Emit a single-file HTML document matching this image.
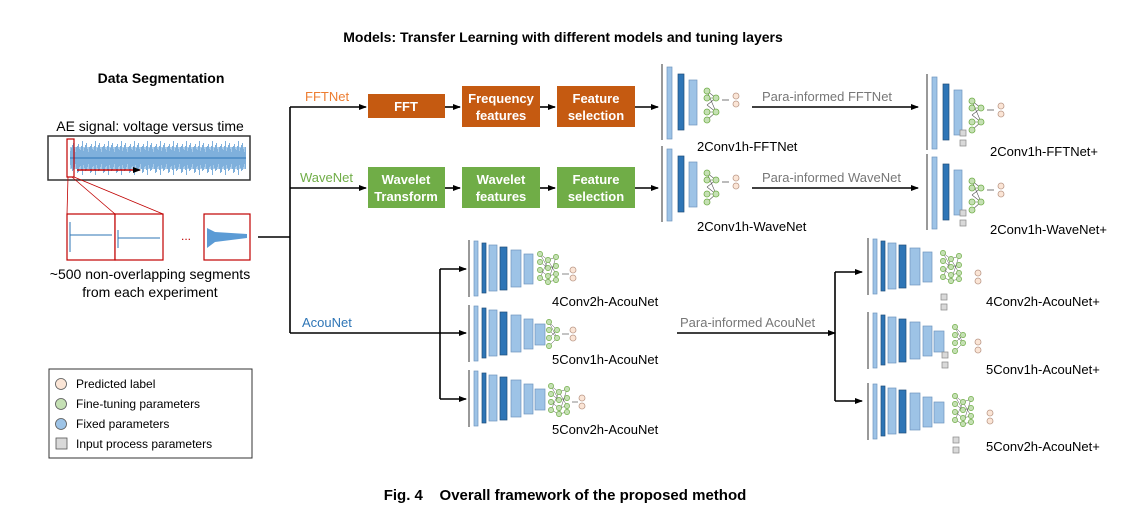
<!DOCTYPE html>
<html><head><meta charset="utf-8"><style>
body{margin:0;background:#fff;width:1132px;height:510px;overflow:hidden}
svg{display:block}
text{font-family:"Liberation Sans",sans-serif}
</style></head><body>
<svg width="1132" height="510" viewBox="0 0 1132 510" xmlns="http://www.w3.org/2000/svg">
<defs>
<marker id="ah" markerWidth="8" markerHeight="8" refX="7" refY="4" orient="auto" markerUnits="userSpaceOnUse"><path d="M0,1 L8,4 L0,7z" fill="#000"/></marker>
<pattern id="noise" x="0" y="140" width="13" height="36" patternUnits="userSpaceOnUse">
<g stroke="#7fb0dc" stroke-width="1"><line x1="0.5" y1="4" x2="0.5" y2="32"/><line x1="1.5" y1="9" x2="1.5" y2="27"/><line x1="2.5" y1="10" x2="2.5" y2="26"/><line x1="3.5" y1="6" x2="3.5" y2="30"/><line x1="4.5" y1="1" x2="4.5" y2="35"/><line x1="5.5" y1="11" x2="5.5" y2="25"/><line x1="6.5" y1="8" x2="6.5" y2="28"/><line x1="7.5" y1="5" x2="7.5" y2="31"/><line x1="8.5" y1="3" x2="8.5" y2="30"/><line x1="9.5" y1="9" x2="9.5" y2="27"/><line x1="10.5" y1="12" x2="10.5" y2="24"/><line x1="11.5" y1="7" x2="11.5" y2="29"/><line x1="12.5" y1="6" x2="12.5" y2="33"/></g>
</pattern>
<g id="pred"><circle cx="0" cy="0" r="3" fill="#fbe5d6" stroke="#b98" stroke-width="0.8"/><circle cx="0" cy="8" r="3" fill="#fbe5d6" stroke="#b98" stroke-width="0.8"/></g>
<g id="n2">
<line x1="0" y1="0" x2="0" y2="76" stroke="#777" stroke-width="1.5"/>
<rect x="5" y="3" width="5" height="72" fill="#9dc3e6" stroke="#6f95bd" stroke-width="0.7"/>
<rect x="16" y="10" width="6" height="56" fill="#2e75b6" stroke="#1f4e79" stroke-width="0.7"/>
<rect x="27" y="16" width="8" height="45" fill="#9dc3e6" stroke="#6f95bd" stroke-width="0.7"/>
<g stroke="#555" stroke-width="0.6" fill="none"><path d="M45,27 L54,34 L45,41 M45,27 L54,48 M45,41 L54,48 L45,56 M45,34 L54,34 M45,48 L54,48"/></g>
<g fill="#c5e0b4" stroke="#70ad47" stroke-width="0.8"><circle cx="45" cy="27" r="3"/><circle cx="45" cy="34" r="3"/><circle cx="45" cy="48" r="3"/><circle cx="45" cy="56" r="3"/><circle cx="54" cy="34" r="3"/><circle cx="54" cy="48" r="3"/></g>
<line x1="60" y1="36" x2="67" y2="36" stroke="#555" stroke-width="0.8"/>
<use href="#pred" x="74" y="32"/>
</g>
<g id="sq" fill="#d9d9d9" stroke="#888" stroke-width="0.7"><rect x="0" y="0" width="6" height="6"/><rect x="0" y="10" width="6" height="6"/></g>
<g id="acou">
<line x1="0" y1="0" x2="0" y2="57" stroke="#777" stroke-width="1.5"/>
<rect x="5" y="1" width="4" height="55" fill="#9dc3e6" stroke="#6f95bd" stroke-width="0.7"/>
<rect x="13" y="3" width="4" height="50" fill="#2e75b6" stroke="#1f4e79" stroke-width="0.7"/>
<rect x="20" y="5" width="8" height="46" fill="#9dc3e6" stroke="#6f95bd" stroke-width="0.7"/>
<rect x="31" y="7" width="7" height="43" fill="#2e75b6" stroke="#1f4e79" stroke-width="0.7"/>
<rect x="42" y="10" width="10" height="37" fill="#9dc3e6" stroke="#6f95bd" stroke-width="0.7"/>
<rect x="55" y="14" width="9" height="30" fill="#9dc3e6" stroke="#6f95bd" stroke-width="0.7"/>
</g>
<g id="acou5">
<use href="#acou"/>
<rect x="66" y="19" width="10" height="21" fill="#9dc3e6" stroke="#6f95bd" stroke-width="0.7"/>
</g>
<g id="nodes2">
<g stroke="#555" stroke-width="0.5" fill="none"><path d="M0,0 L8,6 L16,3 M0,8 L8,14 L16,12 M0,16 L8,22 L16,20 M0,24 L8,28 L16,26 M0,0 L8,14 M0,24 L8,6 M8,6 L16,20 M8,28 L16,3"/></g>
<g fill="#c5e0b4" stroke="#70ad47" stroke-width="0.7"><circle cx="0" cy="0" r="2.6"/><circle cx="0" cy="8" r="2.6"/><circle cx="0" cy="16" r="2.6"/><circle cx="0" cy="24" r="2.6"/><circle cx="8" cy="6" r="2.6"/><circle cx="8" cy="14" r="2.6"/><circle cx="8" cy="22" r="2.6"/><circle cx="8" cy="28" r="2.6"/><circle cx="16" cy="3" r="2.6"/><circle cx="16" cy="12" r="2.6"/><circle cx="16" cy="20" r="2.6"/><circle cx="16" cy="26" r="2.6"/></g>
</g>
<g id="nodes1">
<g stroke="#555" stroke-width="0.5" fill="none"><path d="M0,0 L8,8 L0,16 M0,8 L8,16 L0,24 M0,0 L8,16"/></g>
<g fill="#c5e0b4" stroke="#70ad47" stroke-width="0.7"><circle cx="0" cy="0" r="2.6"/><circle cx="0" cy="8" r="2.6"/><circle cx="0" cy="16" r="2.6"/><circle cx="0" cy="24" r="2.6"/><circle cx="8" cy="8" r="2.6"/><circle cx="8" cy="16" r="2.6"/></g>
</g>
</defs>

<text x="563" y="42" font-size="14" font-weight="bold" text-anchor="middle">Models: Transfer Learning with different models and tuning layers</text>
<text x="161" y="83" font-size="14" font-weight="bold" text-anchor="middle">Data Segmentation</text>
<text x="150" y="131" font-size="14" text-anchor="middle">AE signal: voltage versus time</text>

<!-- signal box -->
<rect x="48" y="136" width="202" height="44" fill="#fff" stroke="#333" stroke-width="1.5"/>
<rect x="70" y="147" width="176" height="22" fill="#a9cbe9"/>
<rect x="70" y="140" width="176" height="36" fill="url(#noise)"/>
<line x1="70" y1="158" x2="246" y2="158" stroke="#2e75b6" stroke-width="1"/>
<rect x="67" y="139" width="7" height="38" fill="none" stroke="#c00000" stroke-width="1.2"/>
<line x1="77" y1="170" x2="140" y2="170" stroke="#c00000" stroke-width="1.5" marker-end="url(#ah)"/>
<line x1="68" y1="177" x2="67" y2="214" stroke="#c00000" stroke-width="0.8"/>
<line x1="72" y1="177" x2="115" y2="214" stroke="#c00000" stroke-width="0.8"/>
<line x1="74" y1="177" x2="163" y2="214" stroke="#c00000" stroke-width="0.8"/>
<rect x="67" y="214" width="48" height="46" fill="#fff" stroke="#c00000" stroke-width="1.2"/>
<rect x="115" y="214" width="48" height="46" fill="#fff" stroke="#c00000" stroke-width="1.2"/>
<rect x="204" y="214" width="46" height="46" fill="#fff" stroke="#c00000" stroke-width="1.2"/>
<line x1="70" y1="235" x2="112" y2="235" stroke="#2e75b6"/><line x1="70" y1="222" x2="70" y2="252" stroke="#2e75b6"/>
<line x1="118" y1="238" x2="160" y2="238" stroke="#2e75b6"/><line x1="118" y1="230" x2="118" y2="248" stroke="#2e75b6"/>
<path d="M207,228 L215,232 L247,234 L247,238 L215,242 L207,248 Z" fill="#5b9bd5"/>
<text x="186" y="240" font-size="12" fill="#c00000" text-anchor="middle">...</text>
<text x="150" y="279" font-size="14" text-anchor="middle">~500 non-overlapping segments</text>
<text x="150" y="297" font-size="14" text-anchor="middle">from each experiment</text>

<!-- trunk -->
<g stroke="#000" stroke-width="1.6" fill="none">
<line x1="258" y1="237" x2="290" y2="237"/>
<line x1="290" y1="107" x2="290" y2="333"/>
<line x1="290" y1="107" x2="366" y2="107" marker-end="url(#ah)"/>
<line x1="290" y1="188" x2="366" y2="188" marker-end="url(#ah)"/>
<line x1="290" y1="333" x2="466" y2="333" marker-end="url(#ah)"/>
<line x1="445" y1="107" x2="460" y2="107" marker-end="url(#ah)"/>
<line x1="540" y1="107" x2="555" y2="107" marker-end="url(#ah)"/>
<line x1="635" y1="107" x2="658" y2="107" marker-end="url(#ah)"/>
<line x1="445" y1="188" x2="460" y2="188" marker-end="url(#ah)"/>
<line x1="540" y1="188" x2="555" y2="188" marker-end="url(#ah)"/>
<line x1="635" y1="188" x2="658" y2="188" marker-end="url(#ah)"/>
<line x1="440" y1="269" x2="440" y2="399"/>
<line x1="440" y1="269" x2="466" y2="269" marker-end="url(#ah)"/>
<line x1="440" y1="399" x2="466" y2="399" marker-end="url(#ah)"/>
<line x1="752" y1="107" x2="918" y2="107" marker-end="url(#ah)"/>
<line x1="752" y1="188" x2="918" y2="188" marker-end="url(#ah)"/>
<line x1="677" y1="333" x2="835" y2="333" marker-end="url(#ah)"/>
<line x1="835" y1="272" x2="835" y2="401"/>
<line x1="835" y1="272" x2="862" y2="272" marker-end="url(#ah)"/>
<line x1="835" y1="401" x2="862" y2="401" marker-end="url(#ah)"/>
</g>
<text x="305" y="101" font-size="13" fill="#ed7d31">FFTNet</text>
<text x="300" y="182" font-size="13" fill="#70ad47">WaveNet</text>
<text x="302" y="327" font-size="13" fill="#2e75b6">AcouNet</text>

<!-- boxes -->
<g font-size="13" font-weight="bold" fill="#fff" text-anchor="middle">
<rect x="368" y="94" width="77" height="24" fill="#c55a11"/><text x="406" y="111" fill="#fff">FFT</text>
<rect x="462" y="86" width="78" height="41" fill="#c55a11"/><text x="501" y="103" fill="#fff">Frequency</text><text x="501" y="120" fill="#fff">features</text>
<rect x="557" y="86" width="78" height="41" fill="#c55a11"/><text x="596" y="103" fill="#fff">Feature</text><text x="596" y="120" fill="#fff">selection</text>
<rect x="368" y="167" width="77" height="41" fill="#70ad47"/><text x="406" y="184" fill="#fff">Wavelet</text><text x="406" y="201" fill="#fff">Transform</text>
<rect x="462" y="167" width="78" height="41" fill="#70ad47"/><text x="501" y="184" fill="#fff">Wavelet</text><text x="501" y="201" fill="#fff">features</text>
<rect x="557" y="167" width="78" height="41" fill="#70ad47"/><text x="596" y="184" fill="#fff">Feature</text><text x="596" y="201" fill="#fff">selection</text>
</g>

<!-- nets -->
<use href="#n2" x="662" y="64"/>
<use href="#n2" x="662" y="146"/>
<use href="#n2" x="927" y="74"/><use href="#sq" x="960" y="130"/>
<use href="#n2" x="927" y="154"/><use href="#sq" x="960" y="210"/>

<use href="#acou" x="469" y="240"/><use href="#nodes2" x="540" y="254"/><use href="#pred" x="573" y="270"/>
<line x1="562" y1="274" x2="569" y2="274" stroke="#555" stroke-width="0.7"/>
<use href="#acou5" x="469" y="305"/><use href="#nodes1" x="549" y="322"/><use href="#pred" x="573" y="330"/>
<line x1="562" y1="334" x2="569" y2="334" stroke="#555" stroke-width="0.7"/>
<use href="#acou5" x="469" y="370"/><use href="#nodes2" x="551" y="386"/><use href="#pred" x="582" y="398"/>
<line x1="572" y1="402" x2="578" y2="402" stroke="#555" stroke-width="0.7"/>

<use href="#acou" x="868" y="238"/><use href="#nodes2" x="943" y="253"/><use href="#pred" x="978" y="273"/><use href="#sq" x="941" y="294"/>
<use href="#acou5" x="868" y="312"/><use href="#nodes1" x="955" y="327"/><use href="#pred" x="978" y="342"/><use href="#sq" x="942" y="352"/>
<use href="#acou5" x="868" y="383"/><use href="#nodes2" x="955" y="396"/><use href="#pred" x="990" y="413"/><use href="#sq" x="953" y="437"/>

<g font-size="13">
<text x="697" y="151">2Conv1h-FFTNet</text>
<text x="990" y="156">2Conv1h-FFTNet+</text>
<text x="697" y="231">2Conv1h-WaveNet</text>
<text x="990" y="234">2Conv1h-WaveNet+</text>
<text x="552" y="306">4Conv2h-AcouNet</text>
<text x="552" y="364">5Conv1h-AcouNet</text>
<text x="552" y="434">5Conv2h-AcouNet</text>
<text x="986" y="306">4Conv2h-AcouNet+</text>
<text x="986" y="374">5Conv1h-AcouNet+</text>
<text x="986" y="451">5Conv2h-AcouNet+</text>
</g>
<g font-size="13" fill="#777">
<text x="762" y="101">Para-informed FFTNet</text>
<text x="762" y="182">Para-informed WaveNet</text>
<text x="680" y="327">Para-informed AcouNet</text>
</g>

<!-- legend -->
<rect x="49" y="369" width="203" height="89" fill="#fff" stroke="#333" stroke-width="1"/>
<circle cx="61" cy="384" r="5.5" fill="#fbe5d6" stroke="#555" stroke-width="0.8"/>
<circle cx="61" cy="404" r="5.5" fill="#c5e0b4" stroke="#555" stroke-width="0.8"/>
<circle cx="61" cy="424" r="5.5" fill="#9dc3e6" stroke="#555" stroke-width="0.8"/>
<rect x="56" y="438" width="11" height="11" fill="#d9d9d9" stroke="#555" stroke-width="0.8"/>
<g font-size="12"><text x="76" y="388">Predicted label</text><text x="76" y="408">Fine-tuning parameters</text><text x="76" y="428">Fixed parameters</text><text x="76" y="448">Input process parameters</text></g>

<text x="565" y="500" font-size="15" font-weight="bold" text-anchor="middle" xml:space="preserve">Fig. 4    Overall framework of the proposed method</text>
</svg>
</body></html>
